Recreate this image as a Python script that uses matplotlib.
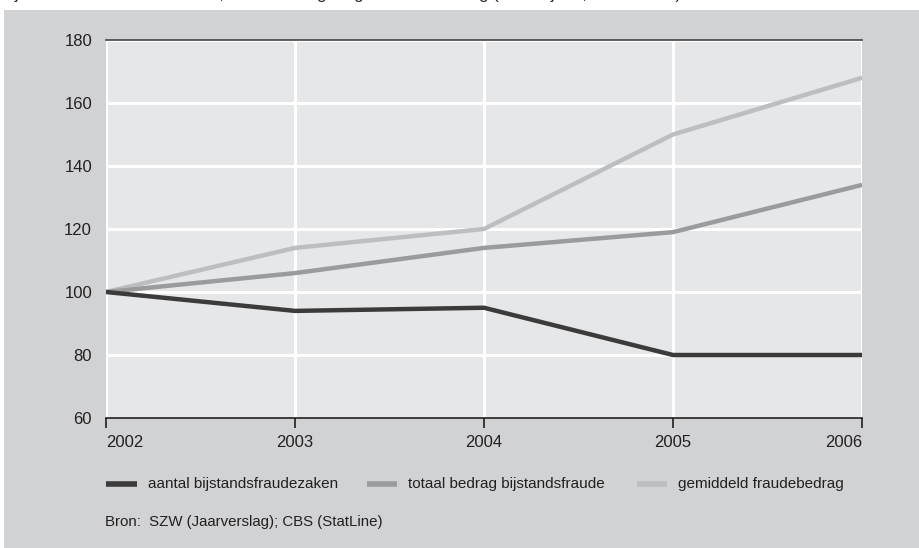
import matplotlib
matplotlib.use("Agg")
import matplotlib.pyplot as plt
from matplotlib.patches import Rectangle
from matplotlib.lines import Line2D

plt.rcParams['font.family'] = ['Liberation Sans', 'DejaVu Sans']

# Index figures, 2002 = 100
years = [2002, 2003, 2004, 2005, 2006]
aantal_zaken = [100, 94, 95, 80, 80]
totaal_bedrag = [100, 106, 114, 119, 134]
gemiddeld_bedrag = [100, 114, 120, 150, 168]

series_labels = ["aantal bijstandsfraudezaken",
                 "totaal bedrag bijstandsfraude",
                 "gemiddeld fraudebedrag"]
y_ticks = [60, 80, 100, 120, 140, 160, 180]
title_text = "Bijstandsfraude: aantal zaken, totaal bedrag en gemiddeld bedrag (indexcijfers, 2002 = 100)"
source_text = "Bron:  SZW (Jaarverslag); CBS (StatLine)"

c_dark = "#3b3b3c"
c_mid = "#9a9b9d"
c_light = "#bdbec0"
c_panel = "#d1d2d4"
c_plot = "#e6e7e9"
c_text = "#231f20"

W, H = 920, 548
fig = plt.figure(figsize=(W / 100, H / 100), dpi=100)
fig.patch.set_facecolor("white")

# grey panel behind the chart
fig.add_artist(Rectangle((4 / W, 0), 1 - 4 / W, (H - 10) / H,
                         transform=fig.transFigure, facecolor=c_panel,
                         edgecolor="none", zorder=0))

# title line (runs off the top edge)
fig.text(0 / W, 1 + 1 / H, title_text, fontsize=12, color=c_text,
         ha="left", va="baseline")

ax = fig.add_axes([106 / W, (H - 418) / H, (862 - 106) / W, (418 - 40) / H])
ax.set_facecolor(c_plot)
ax.set_zorder(1)

lw = 3.2
ax.plot(years, gemiddeld_bedrag, color=c_light, lw=lw, solid_capstyle="butt", zorder=3)
ax.plot(years, totaal_bedrag, color=c_mid, lw=lw, solid_capstyle="butt", zorder=4)
ax.plot(years, aantal_zaken, color=c_dark, lw=lw, solid_capstyle="butt", zorder=5)

ax.set_xlim(years[0], years[-1])
ax.set_ylim(y_ticks[0], y_ticks[-1])
ax.set_xticks(years)
ax.set_xticklabels([str(y) for y in years])
ax.set_yticks(y_ticks)
ax.set_yticklabels([str(v) for v in y_ticks])

ax.grid(True, color="white", lw=2.2, zorder=1)
ax.set_axisbelow(True)

for side in ("left", "right"):
    ax.spines[side].set_visible(False)
ax.spines["top"].set_color("#444444")
ax.spines["top"].set_linewidth(1.2)
ax.spines["bottom"].set_color("#231f20")
ax.spines["bottom"].set_linewidth(1.2)

ax.tick_params(axis="x", direction="out", length=7, width=1.2, color="#231f20",
               labelsize=12, labelcolor=c_text, pad=5)
ax.tick_params(axis="y", length=0, labelsize=12, labelcolor=c_text, pad=10)

xlabels = ax.get_xticklabels()
xlabels[0].set_horizontalalignment("left")
xlabels[-1].set_horizontalalignment("right")
for lab in (xlabels[0], xlabels[-1]):
    pass

# legend row
leg_y = 1 - 484 / H
entries = [(106, 137, 148, c_dark), (367, 397, 408, c_mid), (637, 667, 678, c_light)]
for (x0, x1, xt, col), lab in zip(entries, series_labels):
    fig.add_artist(Line2D([x0 / W, x1 / W], [leg_y, leg_y], transform=fig.transFigure,
                          color=col, lw=4, solid_capstyle="butt", zorder=2))
    fig.text(xt / W, leg_y, lab, fontsize=11, color=c_text, ha="left", va="center")

fig.text(105 / W, 1 - 522 / H, source_text, fontsize=10.8, color=c_text,
         ha="left", va="center")

fig.savefig("out.png", dpi=100, facecolor=fig.get_facecolor())
